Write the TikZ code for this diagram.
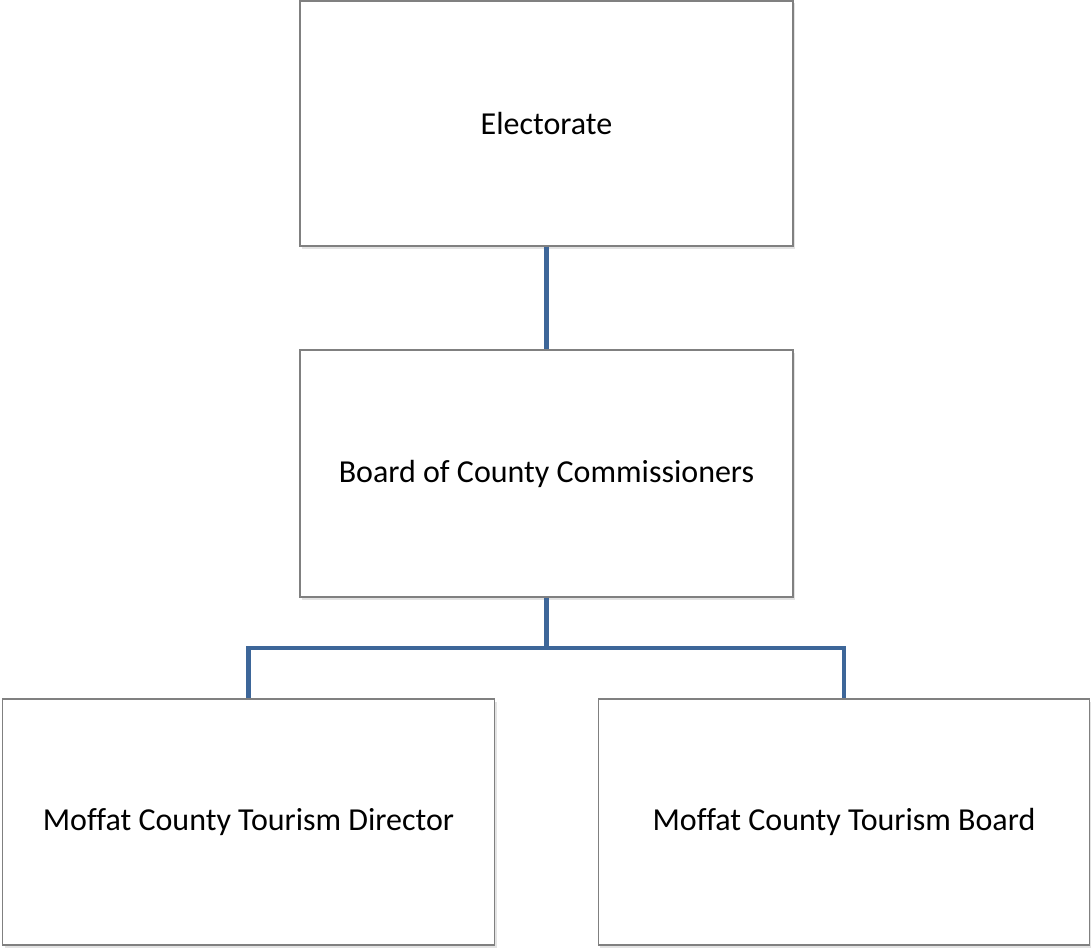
\documentclass[tikz,border=0pt]{standalone}
\usepackage{fontspec}
\setmainfont[Ligatures=NoCommon]{Carlito}
\usetikzlibrary{shadows}
\definecolor{boxline}{HTML}{808080}
\definecolor{conn}{HTML}{3D6699}
\begin{document}
\begin{tikzpicture}[x=1pt,y=1pt,
  orgbox/.style={draw=boxline, line width=1.3pt, fill=white, inner sep=0pt,
    font=\fontsize{32}{38}\selectfont,
    drop shadow={opacity=0.22, shadow xshift=2pt, shadow yshift=-2.5pt}},
  link/.style={draw=conn, line width=4.5pt}]
\useasboundingbox (0,0) rectangle (1091,-947);
\node[orgbox, minimum width=493pt, minimum height=245pt] (e) at (546.5,-123.5) {Electorate};
\node[orgbox, minimum width=493pt, minimum height=247pt] (b) at (546.5,-473.5) {Board of County Commissioners};
\node[orgbox, minimum width=492pt, minimum height=246pt] (d) at (248.5,-822) {Moffat County Tourism Director};
\node[orgbox, minimum width=491.5pt, minimum height=246pt] (t) at (844,-822) {Moffat County Tourism Board};
\coordinate (j) at (546.5,-648);
\draw[link] (e.south) -- (b.north);
\draw[link] (b.south) -- (j) -| (d.north);
\draw[link] (j) -| (t.north);
\end{tikzpicture}
\end{document}
